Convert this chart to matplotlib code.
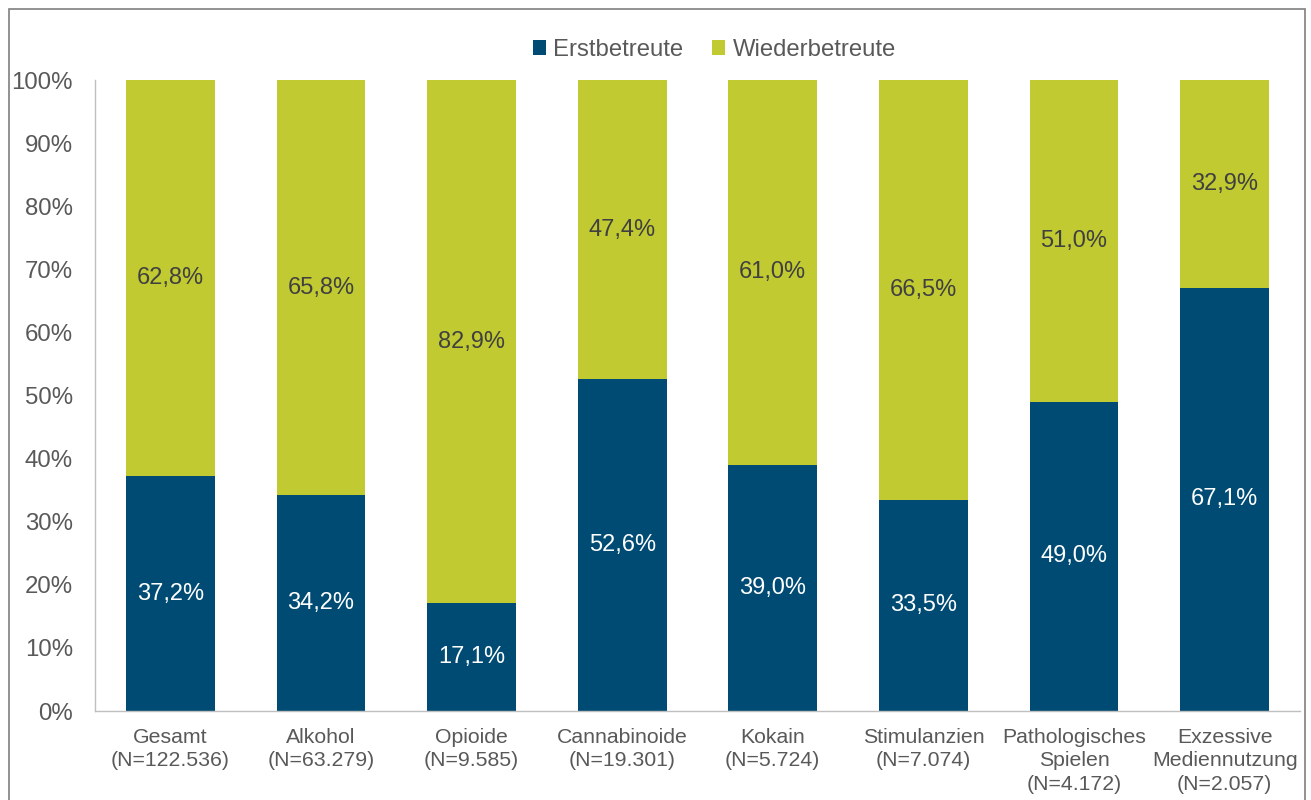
"""Stacked 100% bars: Erstbetreute vs. Wiederbetreute by main diagnosis."""
import matplotlib
matplotlib.use("Agg")
import matplotlib.pyplot as plt
from matplotlib.patches import Rectangle

categories = [
    "Gesamt\n(N=122.536)",
    "Alkohol\n(N=63.279)",
    "Opioide\n(N=9.585)",
    "Cannabinoide\n(N=19.301)",
    "Kokain\n(N=5.724)",
    "Stimulanzien\n(N=7.074)",
    "Pathologisches\nSpielen\n(N=4.172)",
    "Exzessive\nMediennutzung\n(N=2.057)",
]
erst = [37.2, 34.2, 17.1, 52.6, 39.0, 33.5, 49.0, 67.1]
wieder = [62.8, 65.8, 82.9, 47.4, 61.0, 66.5, 51.0, 32.9]
yticks = [0, 10, 20, 30, 40, 50, 60, 70, 80, 90, 100]

BLUE = "#004B73"
GREEN = "#C1CA31"
TEXT = "#595959"

plt.rcParams["font.family"] = ["Liberation Sans", "DejaVu Sans"]

fig = plt.figure(figsize=(13.11, 8), dpi=100)
ax = fig.add_axes([95 / 1311, 1 - 711 / 800, 1205 / 1311, 631 / 800])

x = range(len(categories))
b1 = ax.bar(x, erst, width=0.59, color=BLUE, label="Erstbetreute")
b2 = ax.bar(x, wieder, width=0.59, bottom=erst, color=GREEN, label="Wiederbetreute")

fmt = lambda v: f"{v:.1f}%".replace(".", ",")
for i, (e, w) in enumerate(zip(erst, wieder)):
    ax.text(i, e / 2, fmt(e), ha="center", va="center", color="white", fontsize=17)
    ax.text(i, e + w / 2, fmt(w), ha="center", va="center", color="#404040", fontsize=17)

ax.set_xlim(-0.5, len(categories) - 0.5)
ax.set_ylim(0, 100)
ax.set_yticks(yticks)
ax.set_yticklabels([f"{t}%" for t in yticks], fontsize=17.3, color=TEXT)
ax.set_xticks(list(x))
ax.set_xticklabels(categories, fontsize=15.3, color=TEXT, linespacing=1.32)
ax.tick_params(axis="both", length=0)
ax.tick_params(axis="y", pad=16)
ax.tick_params(axis="x", pad=12)

for side in ("top", "right"):
    ax.spines[side].set_visible(False)
for side in ("left", "bottom"):
    ax.spines[side].set_color("#BFBFBF")
    ax.spines[side].set_linewidth(1)

ax.legend(loc="center", bbox_to_anchor=(0.5 + 17 / 1205, 1.0 + 30 / 631), ncol=2,
          frameon=False, fontsize=17.2, handlelength=0.55, handleheight=0.55,
          handletextpad=0.3, columnspacing=1.2, labelcolor=TEXT)

fig.patches.append(Rectangle((9 / 1311, -0.05), 1296 / 1311, 1.05 - 9 / 800,
                             transform=fig.transFigure, fill=False,
                             edgecolor="#7F7F7F", linewidth=1.2))

fig.savefig("out.png", dpi=100)
